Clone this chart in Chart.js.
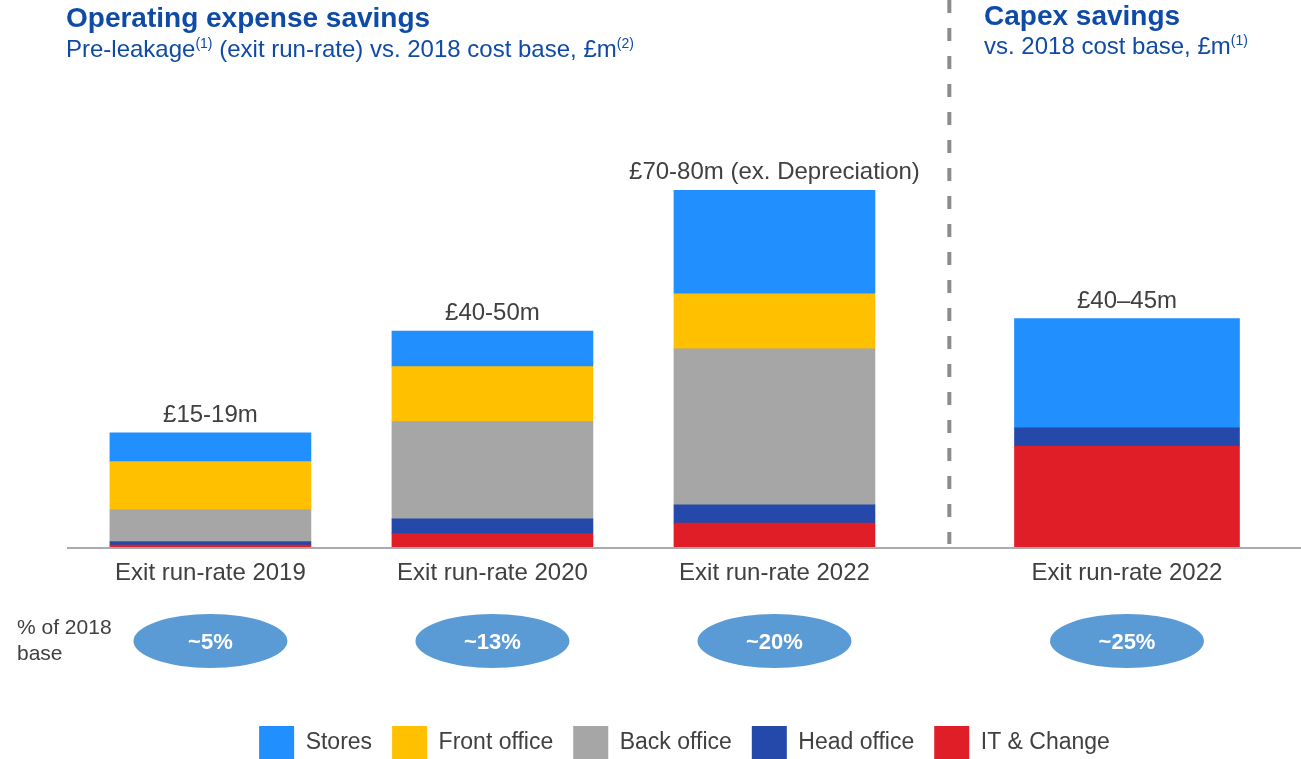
<!DOCTYPE html>
<html>
<head>
<meta charset="utf-8">
<script src="https://cdn.jsdelivr.net/npm/chart.js@4.4.0/dist/chart.umd.min.js"></script>
<style>
    body {
        margin: 0;
        background: #ffffff;
        font-family: "Liberation Sans", Arial, sans-serif;
    }

    #tela {
        position: relative;
        width: 1301px;
        height: 759px;
        overflow: hidden;
    }

    #grafico {
        position: absolute;
        left: 0;
        top: 0;
    }

    .titulo {
        position: absolute;
        color: #0f4ba6;
        font-weight: bold;
        font-size: 28px;
        line-height: 32px;
        white-space: nowrap;
    }

    .subtitulo {
        position: absolute;
        color: #0f4ba6;
        font-size: 24px;
        line-height: 28px;
        white-space: nowrap;
    }

    .subtitulo sup {
        font-size: 14px;
        line-height: 0;
        vertical-align: 9px;
    }

    .base {
        position: absolute;
        left: 17px;
        top: 614px;
        font-size: 21px;
        line-height: 26px;
        color: #404040;
    }
</style>
</head>
<body>
<div id="tela">
    <canvas id="grafico" width="1301" height="759"></canvas>

    <div class="titulo" style="left:66px; top:2px;">Operating expense savings</div>
    <div class="subtitulo" style="left:66px; top:35px;">Pre-leakage<sup>(1)</sup> (exit run-rate) vs. 2018 cost base, £m<sup>(2)</sup></div>

    <div class="titulo" style="left:984px; top:0px;">Capex savings</div>
    <div class="subtitulo" style="left:984px; top:32px;">vs. 2018 cost base, £m<sup>(1)</sup></div>

    <div class="base">% of 2018<br>base</div>
</div>

<script>
// Categorias e posições no eixo x (a barra de capex fica mais afastada)
const categorias = ['Exit run-rate 2019', 'Exit run-rate 2020', 'Exit run-rate 2022', 'Exit run-rate 2022'];
const posicoes = [0, 1, 2, 3.25];

// Opex, £m por área
const lojas = [6.0, 7.4, 21.6];
const frontOffice = [10.1, 11.5, 11.5];
const backOffice = [6.6, 20.3, 32.6];
const headOffice = [0.75, 3.1, 3.8];
const itChange = [0.6, 3.0, 5.2];

// Capex, £m por área
const capexLojas = [22.8];
const capexHeadOffice = [3.8];
const capexItChange = [21.3];

// Textos acima das barras e nas elipses
const totais = ['£15-19m', '£40-50m', '£70-80m (ex. Depreciation)', '£40–45m'];
const percentuais = ['~5%', '~13%', '~20%', '~25%'];

const cores = {
    lojas: '#228fff',
    front: '#ffc000',
    back: '#a6a6a6',
    head: '#2449aa',
    it: '#e01e27'
};

function pontos(valores, inicio) {
    return valores.map(function (v, i) {
        return { x: posicoes[inicio + i], y: v };
    });
}

function serie(nome, valores, cor, inicio, largura) {
    return {
        label: nome,
        data: pontos(valores, inicio),
        backgroundColor: cor,
        borderWidth: 0,
        barThickness: largura
    };
}

// Linha tracejada entre opex e capex, elipses de % e totais das barras
const rotulosPlugin = {
    id: 'rotulos',
    beforeDatasetsDraw(chart) {
        const ctx = chart.ctx;
        const x = chart.scales.x.getPixelForValue(2.62);
        ctx.save();
        ctx.strokeStyle = '#8c8c8c';
        ctx.lineWidth = 4;
        ctx.setLineDash([13, 15]);
        ctx.beginPath();
        ctx.moveTo(x, 0);
        ctx.lineTo(x, chart.chartArea.bottom - 4);
        ctx.stroke();
        ctx.restore();
    },
    afterDraw(chart) {
        const ctx = chart.ctx;
        const area = chart.chartArea;

        // topo de cada pilha = barra de Stores
        const topos = [
            chart.getDatasetMeta(4).data[0],
            chart.getDatasetMeta(4).data[1],
            chart.getDatasetMeta(4).data[2],
            chart.getDatasetMeta(7).data[0]
        ];

        ctx.save();
        topos.forEach(function (barra, i) {
            ctx.fillStyle = '#404040';
            ctx.font = '24px "Liberation Sans", Arial, sans-serif';
            ctx.textAlign = 'center';
            ctx.textBaseline = 'alphabetic';
            ctx.fillText(totais[i], barra.x, barra.y - 11);

            const yElipse = area.bottom + 93;
            ctx.fillStyle = '#5b9bd5';
            ctx.beginPath();
            ctx.ellipse(barra.x, yElipse, 77, 27, 0, 0, Math.PI * 2);
            ctx.fill();

            ctx.fillStyle = '#ffffff';
            ctx.font = 'bold 22px "Liberation Sans", Arial, sans-serif';
            ctx.textBaseline = 'middle';
            ctx.fillText(percentuais[i], barra.x, yElipse + 2);
        });
        ctx.restore();
    }
};

const ctx = document.getElementById('grafico');

new Chart(ctx, {
    type: 'bar',
    data: {
        datasets: [
            serie('IT & Change', itChange, cores.it, 0, 201),
            serie('Head office', headOffice, cores.head, 0, 201),
            serie('Back office', backOffice, cores.back, 0, 201),
            serie('Front office', frontOffice, cores.front, 0, 201),
            serie('Stores', lojas, cores.lojas, 0, 201),
            serie('IT & Change', capexItChange, cores.it, 3, 225),
            serie('Head office', capexHeadOffice, cores.head, 3, 225),
            serie('Stores', capexLojas, cores.lojas, 3, 225)
        ]
    },
    options: {
        responsive: false,
        animation: false,
        devicePixelRatio: 1,
        layout: {
            padding: { left: 68, right: 0, top: 165, bottom: -10 }
        },
        scales: {
            x: {
                type: 'linear',
                stacked: true,
                offset: false,
                min: -0.505,
                max: 3.867,
                grid: { display: false, drawTicks: false },
                border: { display: true, color: '#ababab', width: 2, z: 1 },
                afterBuildTicks: function (eixo) {
                    eixo.ticks = posicoes.map(function (v) { return { value: v }; });
                },
                afterFit: function (eixo) {
                    eixo.height = 158;
                },
                ticks: {
                    autoSkip: false,
                    maxRotation: 0,
                    padding: 11,
                    color: '#404040',
                    font: { family: '"Liberation Sans", Arial, sans-serif', size: 24 },
                    callback: function (valor, indice) {
                        return categorias[indice];
                    }
                }
            },
            y: {
                display: false,
                stacked: true,
                min: 0,
                max: 80
            }
        },
        plugins: {
            tooltip: { enabled: false },
            legend: {
                position: 'bottom',
                reverse: true,
                labels: {
                    boxWidth: 35,
                    boxHeight: 33,
                    padding: 20,
                    color: '#404040',
                    font: { family: '"Liberation Sans", Arial, sans-serif', size: 23 },
                    filter: function (item) {
                        return item.datasetIndex < 5;
                    }
                }
            }
        }
    },
    plugins: [rotulosPlugin]
});
</script>
</body>
</html>
